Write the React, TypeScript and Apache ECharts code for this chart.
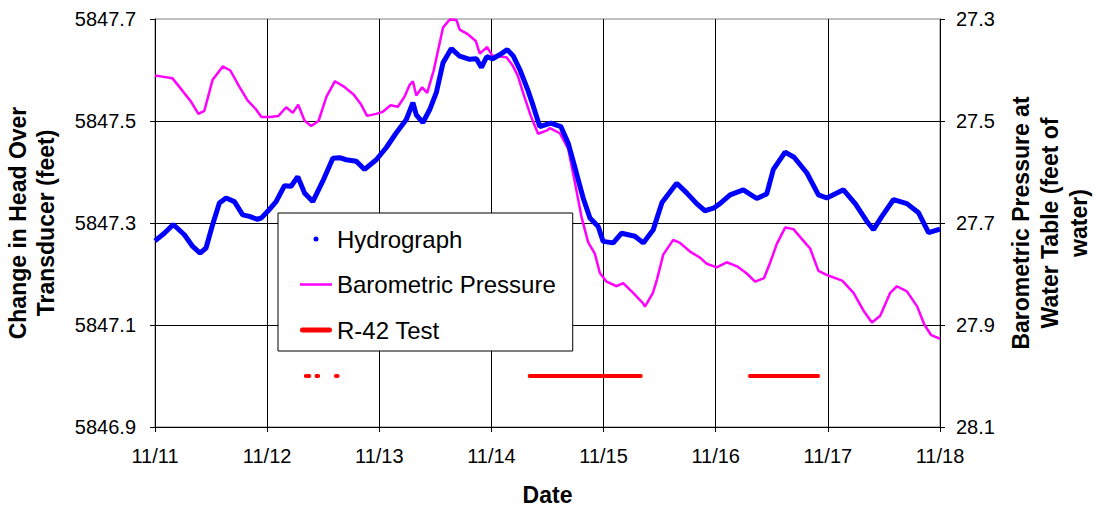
import React, { useEffect, useRef } from 'react';
import * as echarts from 'echarts';

const FONT = '"Liberation Sans", Arial, Helvetica, sans-serif';

const dayLabels = ['11/11', '11/12', '11/13', '11/14', '11/15', '11/16', '11/17', '11/18'];

// Hydrograph: days since 11/11 00:00, head (feet)
const hydroDays = [
  0.000, 0.083, 0.163, 0.262, 0.336, 0.402, 0.455, 0.514, 0.574, 0.634,
  0.708, 0.782, 0.842, 0.913, 0.949, 1.005, 1.080, 1.154, 1.214, 1.273,
  1.333, 1.407, 1.496, 1.586, 1.646, 1.705, 1.795, 1.869, 1.973, 2.063,
  2.152, 2.241, 2.300, 2.330, 2.389, 2.449, 2.509, 2.568, 2.643, 2.717,
  2.806, 2.866, 2.911, 2.958, 3.012, 3.074, 3.141, 3.193, 3.253, 3.324,
  3.369, 3.431, 3.529, 3.619, 3.684, 3.759, 3.818, 3.878, 3.952, 3.996,
  4.086, 4.161, 4.279, 4.354, 4.443, 4.521, 4.652, 4.741, 4.830, 4.904,
  4.979, 5.038, 5.128, 5.246, 5.366, 5.455, 5.514, 5.619, 5.699, 5.813,
  5.916, 5.991, 6.139, 6.244, 6.348, 6.407, 6.482, 6.586, 6.705, 6.809,
  6.898, 7.000,
];
const hydroHead = [
  5847.265, 5847.280, 5847.297, 5847.277, 5847.254, 5847.241, 5847.251, 5847.297, 5847.339, 5847.349,
  5847.342, 5847.316, 5847.313, 5847.307, 5847.310, 5847.323, 5847.342, 5847.373, 5847.372, 5847.391,
  5847.359, 5847.342, 5847.382, 5847.427, 5847.428, 5847.424, 5847.421, 5847.405, 5847.424, 5847.448,
  5847.477, 5847.503, 5847.536, 5847.512, 5847.497, 5847.522, 5847.556, 5847.614, 5847.642, 5847.627,
  5847.621, 5847.622, 5847.605, 5847.626, 5847.622, 5847.630, 5847.640, 5847.628, 5847.601, 5847.561,
  5847.532, 5847.489, 5847.496, 5847.489, 5847.457, 5847.397, 5847.349, 5847.310, 5847.293, 5847.264,
  5847.261, 5847.280, 5847.274, 5847.261, 5847.287, 5847.340, 5847.378, 5847.359, 5847.338, 5847.324,
  5847.329, 5847.338, 5847.355, 5847.365, 5847.348, 5847.357, 5847.405, 5847.439, 5847.429, 5847.398,
  5847.355, 5847.349, 5847.365, 5847.338, 5847.303, 5847.287, 5847.313, 5847.346, 5847.338, 5847.320,
  5847.281, 5847.288,
];

// Barometric pressure at water table (feet of water)
const baroDays = [
  0.000, 0.065, 0.154, 0.246, 0.321, 0.387, 0.440, 0.514, 0.604, 0.672,
  0.753, 0.827, 0.896, 0.949, 1.021, 1.101, 1.170, 1.229, 1.277, 1.333,
  1.393, 1.458, 1.529, 1.605, 1.681, 1.771, 1.833, 1.891, 1.973, 2.032,
  2.101, 2.166, 2.226, 2.271, 2.300, 2.330, 2.382, 2.427, 2.485, 2.568,
  2.628, 2.688, 2.717, 2.784, 2.860, 2.896, 2.962, 3.007, 3.134, 3.186,
  3.235, 3.284, 3.351, 3.416, 3.491, 3.521, 3.610, 3.684, 3.744, 3.804,
  3.863, 3.922, 3.967, 4.027, 4.116, 4.175, 4.264, 4.354, 4.369, 4.440,
  4.476, 4.532, 4.621, 4.681, 4.771, 4.860, 4.920, 5.009, 5.098, 5.190,
  5.277, 5.351, 5.431, 5.485, 5.545, 5.619, 5.693, 5.813, 5.842, 5.916,
  6.003, 6.128, 6.229, 6.318, 6.393, 6.467, 6.556, 6.616, 6.705, 6.797,
  6.860, 6.922, 7.000,
];
const baroPressure = [
  27.411, 27.413, 27.416, 27.441, 27.462, 27.486, 27.480, 27.419, 27.393, 27.401,
  27.433, 27.460, 27.476, 27.492, 27.492, 27.490, 27.473, 27.484, 27.468, 27.499,
  27.510, 27.500, 27.452, 27.422, 27.432, 27.448, 27.466, 27.490, 27.486, 27.482,
  27.469, 27.472, 27.452, 27.429, 27.422, 27.450, 27.434, 27.445, 27.401, 27.317,
  27.301, 27.302, 27.321, 27.329, 27.343, 27.368, 27.355, 27.372, 27.375, 27.390,
  27.411, 27.446, 27.490, 27.525, 27.519, 27.514, 27.524, 27.554, 27.620, 27.689,
  27.738, 27.760, 27.798, 27.815, 27.824, 27.818, 27.837, 27.858, 27.864, 27.837,
  27.811, 27.762, 27.733, 27.739, 27.756, 27.768, 27.780, 27.787, 27.777, 27.785,
  27.799, 27.815, 27.808, 27.778, 27.741, 27.709, 27.712, 27.743, 27.750, 27.794,
  27.803, 27.813, 27.837, 27.872, 27.895, 27.882, 27.837, 27.824, 27.834, 27.864,
  27.899, 27.920, 27.927,
];

// R-42 test periods (days since 11/11), drawn at a fixed level on the head axis
const r42Starts = [1.345, 1.44, 1.613, 3.341, 5.305];
const r42Ends = [1.375, 1.455, 1.628, 4.332, 5.913];
const r42Level = 5847.0;

export default function App() {
  const ref = useRef<HTMLDivElement>(null);

  useEffect(() => {
    if (!ref.current) return;
    const chart = echarts.init(ref.current, null, { renderer: 'svg' });

    const hydroData = hydroDays.map((d, i) => [d, hydroHead[i]]);
    const baroData = baroDays.map((d, i) => [d, baroPressure[i]]);
    const r42Data: any[] = [];
    r42Starts.forEach((s, i) => {
      r42Data.push([s, r42Level], [r42Ends[i], r42Level], [r42Ends[i], null]);
    });

    const labelStyle = { fontSize: 20, color: '#000', fontFamily: FONT };
    const titleStyle = { fontSize: 23, fontWeight: 'bold' as const, color: '#000', fontFamily: FONT };

    chart.setOption({
      animation: false,
      backgroundColor: '#fff',
      grid: {
        left: 155,
        right: 155,
        top: 19,
        bottom: 80,
        show: true,
        borderColor: '#808080',
        borderWidth: 1,
        backgroundColor: 'transparent',
        containLabel: false,
        outerBoundsMode: 'none',
      },
      legend: {
        orient: 'vertical',
        left: 278,
        top: 213,
        itemWidth: 32,
        itemHeight: 14,
        itemGap: 21.5,
        padding: [14, 17, 9, 22],
        backgroundColor: '#fff',
        borderColor: '#000',
        borderWidth: 1,
        textStyle: { fontSize: 24, color: '#000', fontFamily: FONT },
        data: [
          {
            name: 'Hydrograph',
            icon: 'path://M0,0M32,14M13.5,7A2.5,2.5,0,1,0,18.5,7A2.5,2.5,0,1,0,13.5,7Z',
            itemStyle: { borderWidth: 0, color: '#0000FF' },
          },
          {
            name: 'Barometric Pressure',
            icon: 'path://M0,0M32,14M0,5.75L32,5.75L32,8.25L0,8.25Z',
            itemStyle: { borderWidth: 0, color: '#FF00FF' },
          },
          {
            name: 'R-42 Test',
            icon: 'path://M0,0M32,14M2.5,4.5L29.5,4.5A2.5,2.5,0,0,1,29.5,9.5L2.5,9.5A2.5,2.5,0,0,1,2.5,4.5Z',
            itemStyle: { borderWidth: 0, color: '#FF0000' },
          },
        ],
      },
      xAxis: {
        type: 'value',
        min: 0,
        max: 7,
        interval: 1,
        name: 'Date',
        nameLocation: 'middle',
        nameGap: 56,
        nameTextStyle: titleStyle,
        axisLine: { show: true, lineStyle: { color: '#000', width: 1 } },
        axisTick: { show: true, length: 5, lineStyle: { color: '#000' } },
        axisLabel: { ...labelStyle, margin: 19, formatter: (v: number) => dayLabels[Math.round(v)] },
        splitLine: { show: true, lineStyle: { color: '#000', width: 1 } },
      },
      yAxis: [
        {
          type: 'value',
          position: 'left',
          min: 5846.9,
          max: 5847.7,
          interval: 0.2,
          name: 'Change in Head Over\nTransducer (feet)',
          nameLocation: 'middle',
          nameRotate: 90,
          nameGap: 95,
          nameTextStyle: { ...titleStyle, lineHeight: 28 },
          axisLine: { show: true, lineStyle: { color: '#000', width: 1 } },
          axisTick: { show: true, length: 5, lineStyle: { color: '#000' } },
          axisLabel: { ...labelStyle, margin: 19, formatter: (v: number) => v.toFixed(1) },
          splitLine: { show: true, showMaxLine: false, lineStyle: { color: '#000', width: 1 } },
        },
        {
          type: 'value',
          position: 'right',
          min: 27.3,
          max: 28.1,
          interval: 0.2,
          inverse: true,
          name: 'Barometric Pressure at\nWater Table (feet of\nwater)',
          nameLocation: 'middle',
          nameRotate: 90,
          nameGap: 66,
          nameTextStyle: { ...titleStyle, lineHeight: 29 },
          axisLine: { show: true, lineStyle: { color: '#000', width: 1 } },
          axisTick: { show: true, length: 5, lineStyle: { color: '#000' } },
          axisLabel: { ...labelStyle, margin: 16, formatter: (v: number) => v.toFixed(1) },
          splitLine: { show: false },
        },
      ],
      series: [
        {
          name: 'Barometric Pressure',
          type: 'line',
          yAxisIndex: 1,
          data: baroData,
          symbol: 'none',
          showSymbol: false,
          lineStyle: { color: '#FF00FF', width: 2.5 },
          itemStyle: { color: '#FF00FF' },
          z: 2,
        },
        {
          name: 'Hydrograph',
          type: 'line',
          yAxisIndex: 0,
          data: hydroData,
          symbol: 'none',
          showSymbol: false,
          lineStyle: { color: '#0000FF', width: 5 },
          itemStyle: { color: '#0000FF' },
          z: 3,
        },
        {
          name: 'R-42 Test',
          type: 'line',
          yAxisIndex: 0,
          data: r42Data,
          symbol: 'none',
          showSymbol: false,
          connectNulls: false,
          lineStyle: { color: '#FF0000', width: 4, cap: 'round' },
          itemStyle: { color: '#FF0000' },
          z: 4,
        },
      ],
    });

    return () => {
      chart.dispose();
    };
  }, []);

  return (
    <div
      ref={ref}
      style={{ position: 'absolute', left: 0, top: 0, width: 1095, height: 507 }}
    />
  );
}
